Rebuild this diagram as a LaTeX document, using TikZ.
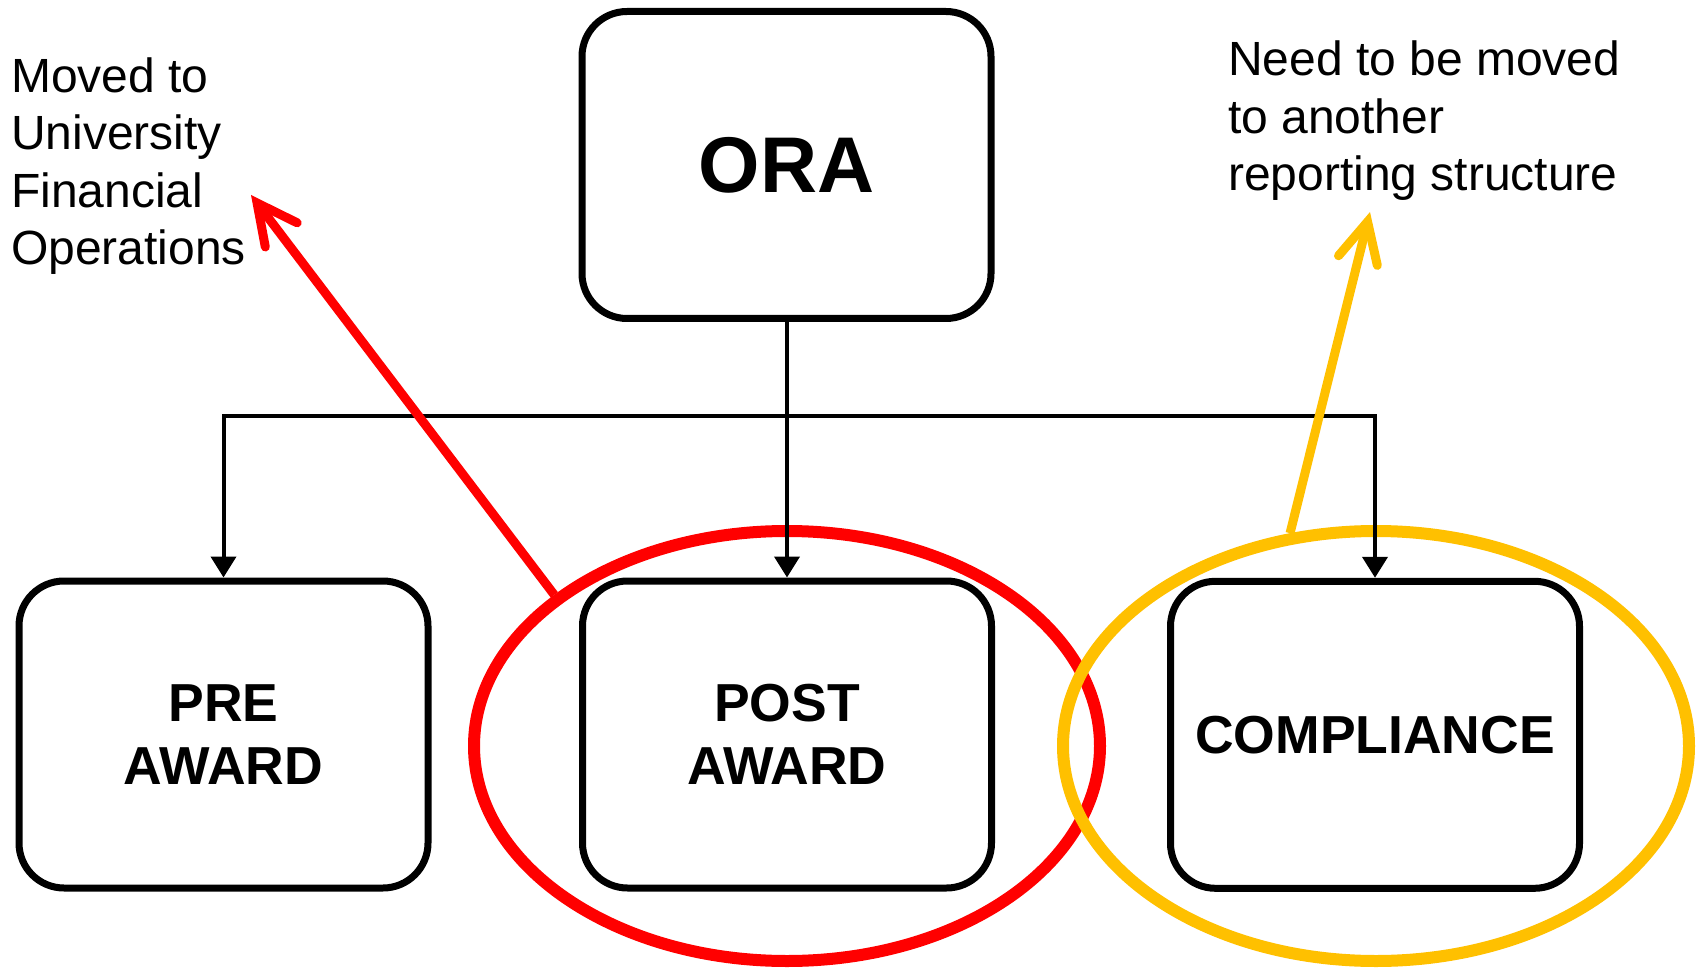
\documentclass[tikz,border=0pt]{standalone}
\usepackage{fontspec}
\setmainfont{Liberation Sans}
\usetikzlibrary{arrows.meta,shapes.geometric}
\definecolor{ringred}{HTML}{FF0000}
\definecolor{ringgold}{HTML}{FFC000}
\begin{document}
\begin{tikzpicture}[x=1pt,y=-1pt,
  unitbox/.style={draw, line width=7pt, rounded corners=45pt, minimum width=409pt, minimum height=307pt, inner sep=0pt, align=center, font=\bfseries\fontsize{53.5}{63.5}\selectfont},
  topbox/.style={unitbox, font=\bfseries\fontsize{79}{90}\selectfont},
  conn/.style={line width=4pt, -{Triangle[length=21pt,width=25pt]}},
  ring/.style={ellipse, draw, line width=12pt, minimum width=626pt, minimum height=430pt, inner sep=0pt},
  callout/.style={line width=9pt, -{Straight Barb[length=40pt,width=40pt,line cap=round]}},
  note/.style={inner sep=0pt, align=left, anchor=north west, font=\fontsize{48}{57.5}\selectfont}]
\useasboundingbox[fill=white] (0,0) rectangle (1700,968);

\node[ring, ringred] (redring) at (787,746) {};
\node[ring, ringgold] (goldring) at (1376,746) {};

\node[topbox] (ora) at (786.5,165) {ORA};
\node[unitbox] (pre) at (223.5,734.5) {PRE\\AWARD};
\node[unitbox] (post) at (787,734.5) {POST\\AWARD};
\node[unitbox] (comp) at (1375,734.8) {COMPLIANCE};

\coordinate (bar) at (787,415.5);
\draw[conn] (ora.south -| post.north) -- (post.north);
\draw[conn] (bar) -| (pre.north);
\draw[conn] (bar) -| (comp.north);

\node[note] (lefttext) at (11,57.3) {Moved to\\University\\Financial\\Operations};
\node[note] (righttext) at (1228,40.6) {Need to be moved\\to another\\reporting structure};

\coordinate (redtip) at (251,195);
\coordinate (goldtip) at (1370,212);
\draw[callout, ringred] (redring.147) -- (redtip);
\draw[callout, ringgold] (goldring.112) -- (goldtip);
\end{tikzpicture}
\end{document}
